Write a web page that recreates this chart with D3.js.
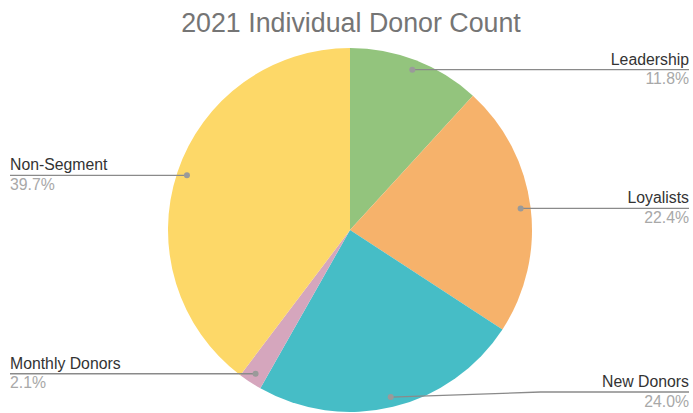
<!DOCTYPE html>
<html>
<head>
<meta charset="utf-8">
<script src="https://cdn.jsdelivr.net/npm/d3@7"></script>
<style>
  html, body { margin: 0; padding: 0; background: #fff; }
  svg { display: block; font-family: Arial, "Liberation Sans", sans-serif; }
</style>
</head>
<body>
<svg id="chart" width="693" height="413"></svg>
<script>
// Donor segments, in drawing order (clockwise from 12 o'clock)
const segments = ["Leadership", "Loyalists", "New Donors", "Monthly Donors", "Non-Segment"];
const shares = [11.8, 22.4, 24.0, 2.1, 39.7];
const colors = ["#93c47d", "#f6b26b", "#46bdc6", "#d5a6bd", "#fdd868"];
const title = "2021 Individual Donor Count";

const W = 693, H = 413;
const cx = 350, cy = 230, R = 182;
const svg = d3.select("#chart");

svg.append("text")
  .attr("x", 351).attr("y", 32)
  .attr("text-anchor", "middle")
  .attr("font-size", 26.8)
  .attr("fill", "#757575")
  .text(title);

const data = segments.map((name, i) => ({ name, value: shares[i], color: colors[i] }));
const pie = d3.pie().value(d => d.value).sort(null);
const arcs = pie(data);
const arc = d3.arc().innerRadius(0).outerRadius(R);

const g = svg.append("g").attr("transform", `translate(${cx},${cy})`);
g.selectAll("path.slice")
  .data(arcs)
  .join("path")
  .attr("class", "slice")
  .attr("d", arc)
  .attr("fill", d => d.data.color);

// Leader lines: anchor dot inside each slice, then out to the chart edge
const anchorR = R * 0.945;
const leftX = 10, rightX = 689, maxY = 392;
const leaders = svg.append("g");

arcs.forEach(a => {
  const mid = (a.startAngle + a.endAngle) / 2;
  const px = cx + anchorR * Math.sin(mid);
  const py = cy - anchorR * Math.cos(mid);
  const right = px >= cx;
  const ly = Math.min(py, maxY);
  const endX = right ? rightX : leftX;
  const pts = [[px, py]];
  if (ly !== py) pts.push([px + (right ? 150 : -150), ly]);
  pts.push([endX, ly]);

  leaders.append("path")
    .attr("d", d3.line()(pts))
    .attr("fill", "none")
    .attr("stroke", "#8a8a8a")
    .attr("stroke-width", 1.3);
  leaders.append("circle")
    .attr("cx", px).attr("cy", py).attr("r", 3)
    .attr("fill", "#9a9a9a");

  const anchor = right ? "end" : "start";
  leaders.append("text")
    .attr("x", endX).attr("y", ly - 5)
    .attr("text-anchor", anchor)
    .attr("font-size", 15.8)
    .attr("fill", "#333")
    .text(a.data.name);
  leaders.append("text")
    .attr("x", endX).attr("y", ly + 14.5)
    .attr("text-anchor", anchor)
    .attr("font-size", 15.8)
    .attr("fill", "#a8a8a8")
    .text(a.data.value.toFixed(1) + "%");
});
</script>
</body>
</html>
